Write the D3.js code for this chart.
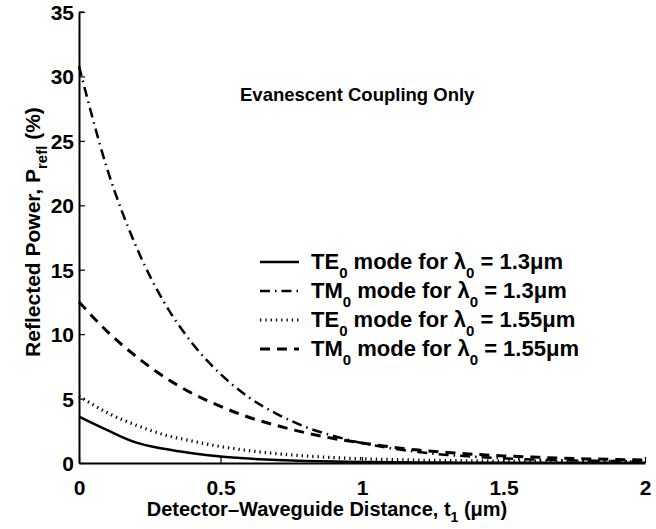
<!DOCTYPE html>
<html>
<head>
<meta charset="utf-8">
<script src="https://cdnjs.cloudflare.com/ajax/libs/d3/7.8.5/d3.min.js"></script>
<style>
  body { margin: 0; background: #fff; }
  text { font-family: "Liberation Sans", Arial, sans-serif; font-weight: bold; }
</style>
</head>
<body>
<svg width="656" height="529"></svg>
<script>
// distance t1 (um)
var tValues = [0, 0.1, 0.2, 0.3, 0.4, 0.5, 0.6, 0.7, 0.8, 0.9, 1.0,
               1.1, 1.2, 1.3, 1.4, 1.5, 1.6, 1.7, 1.8, 1.9, 2.0];
// reflected power (%)
var te13 = [3.6, 2.55, 1.6, 1.1, 0.75, 0.5, 0.34, 0.23, 0.16, 0.11, 0.08,
            0.06, 0.04, 0.03, 0.02, 0.02, 0.01, 0.01, 0.01, 0.01, 0.01];
var tm13 = [30.8, 22.8, 16.9, 12.5, 9.3, 6.9, 5.1, 3.8, 2.8, 2.1, 1.55,
            1.15, 0.85, 0.63, 0.48, 0.36, 0.28, 0.22, 0.18, 0.15, 0.13];
var te155 = [5.2, 3.9, 2.95, 2.2, 1.7, 1.28, 0.96, 0.72, 0.55, 0.42, 0.33,
             0.27, 0.22, 0.19, 0.17, 0.15, 0.14, 0.13, 0.12, 0.12, 0.11];
var tm155 = [12.5, 10.2, 8.3, 6.7, 5.4, 4.4, 3.55, 2.9, 2.35, 1.9, 1.55,
             1.25, 1.0, 0.82, 0.67, 0.55, 0.46, 0.38, 0.32, 0.27, 0.23];
var xTicks = [0, 0.5, 1, 1.5, 2];
var yTicks = [0, 5, 10, 15, 20, 25, 30, 35];

var series = [
    { mode: "TE", wl: "1.3", values: te13, dash: null, width: 2.5 },
    { mode: "TM", wl: "1.3", values: tm13, dash: "10,5,1.5,5", width: 2.5 },
    { mode: "TE", wl: "1.55", values: te155, dash: "1.3,4", width: 3.2 },
    { mode: "TM", wl: "1.55", values: tm155, dash: "10,7", width: 3 }
];

var svg = d3.select("svg");
var x = d3.scaleLinear().domain([0, 2]).range([79, 645]);
var y = d3.scaleLinear().domain([0, 35]).range([463, 12]);

// axes
var xAxis = svg.append("g")
    .attr("transform", "translate(0," + y(0) + ")")
    .call(d3.axisBottom(x).tickValues(xTicks).tickSizeInner(-6).tickSizeOuter(0)
        .tickFormat(d3.format("")));
var yAxis = svg.append("g")
    .attr("transform", "translate(" + x(0) + ",0)")
    .call(d3.axisLeft(y).tickValues(yTicks).tickSizeInner(-6).tickSizeOuter(0));

[xAxis, yAxis].forEach(function(a) {
    a.select(".domain").attr("stroke", "#000").attr("stroke-width", 2);
    a.selectAll(".tick line").attr("stroke", "#000").attr("stroke-width", 1.2);
    a.selectAll(".tick text").attr("fill", "#000")
        .style("font-size", "21px").style("font-family", "Liberation Sans, Arial, sans-serif")
        .style("font-weight", "bold");
});
xAxis.selectAll(".tick text").attr("dy", null).attr("y", 32);
yAxis.selectAll(".tick text").attr("x", -5).attr("dy", "0.36em");
svg.append("line").attr("x1", x(0)).attr("x2", x(0) + 5)
    .attr("y1", y(35)).attr("y2", y(35)).attr("stroke", "#000").attr("stroke-width", 1.2);

// curves
var line = d3.line()
    .x(function(d, i) { return x(tValues[i]); })
    .y(function(d) { return y(d); })
    .curve(d3.curveMonotoneX);

svg.append("g").selectAll("path")
    .data(series)
    .enter()
    .append("path")
    .attr("d", function(s) { return line(s.values); })
    .attr("fill", "none")
    .attr("stroke", "#000")
    .attr("stroke-width", function(s) { return s.width; })
    .attr("stroke-dasharray", function(s) { return s.dash; });

// legend
var legend = svg.append("g");
series.forEach(function(s, i) {
    var yy = 262 + i * 29;
    legend.append("line")
        .attr("x1", 260).attr("x2", 299).attr("y1", yy).attr("y2", yy)
        .attr("stroke", "#000").attr("stroke-width", s.width)
        .attr("stroke-dasharray", s.dash);
    var t = legend.append("text").attr("x", 311).attr("y", yy + 7)
        .style("font-size", "22px");
    t.append("tspan").text(s.mode);
    t.append("tspan").attr("dy", 9).style("font-size", "15px").text("0");
    t.append("tspan").attr("dy", -9).text(" mode for \u03bb");
    t.append("tspan").attr("dy", 9).style("font-size", "15px").text("0");
    t.append("tspan").attr("dy", -9).text(" = " + s.wl + "\u03bcm");
});

// annotation
svg.append("text").attr("x", 240).attr("y", 101)
    .style("font-size", "18.5px").text("Evanescent Coupling Only");

// axis titles
var xt = svg.append("text").attr("x", 327).attr("y", 516)
    .attr("text-anchor", "middle").style("font-size", "20px");
xt.append("tspan").text("Detector\u2013Waveguide Distance, t");
xt.append("tspan").attr("dy", 6).style("font-size", "14px").text("1");
xt.append("tspan").attr("dy", -6).text(" (\u03bcm)");

var yt = svg.append("text")
    .attr("transform", "translate(40,232) rotate(-90)")
    .attr("text-anchor", "middle").style("font-size", "21px");
yt.append("tspan").text("Reflected Power, P");
yt.append("tspan").attr("dy", 7).style("font-size", "15px").text("refl");
yt.append("tspan").attr("dy", -7).text(" (%)");
</script>
</body>
</html>
